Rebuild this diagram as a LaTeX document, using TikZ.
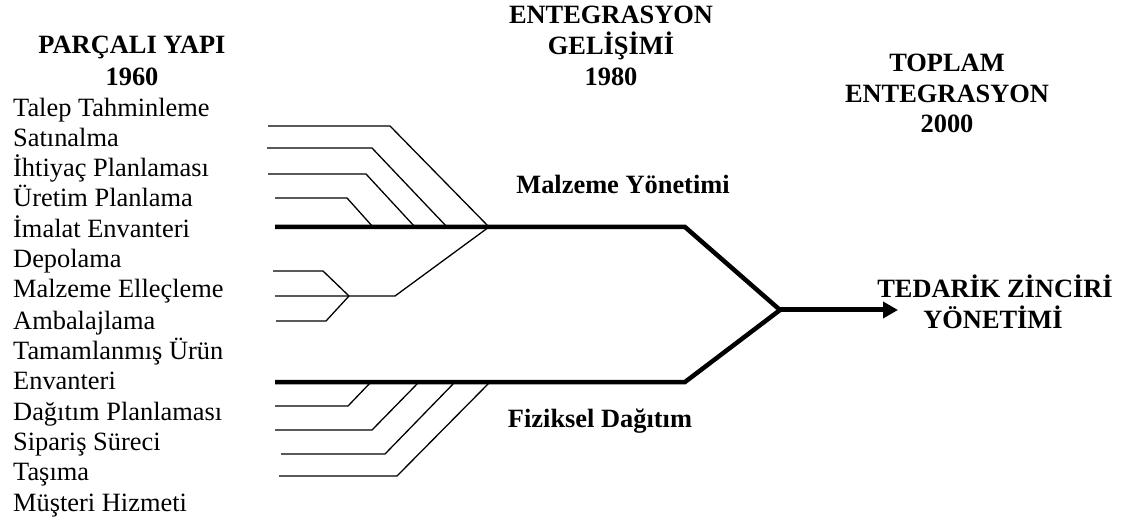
\documentclass[tikz,border=0pt]{standalone}
\usepackage{fontspec}
\setmainfont{Liberation Serif}
\usetikzlibrary{arrows.meta}
\begin{document}
\begin{tikzpicture}[
	x=1pt,y=-1pt,line join=miter,>={Triangle[length=15pt,width=16pt]},
	yazi/.style={inner sep=0pt,font=\fontsize{26.4}{31}\selectfont,text height=18pt,text depth=0pt},
	baslik/.style={yazi,font=\fontsize{26.4}{31}\selectfont\bfseries},
	kalem/.style={yazi,anchor=west},
	ince/.style={line width=1.3pt},
	kalin/.style={line width=4.5pt}]
	\useasboundingbox (0,0) rectangle (1134,526);
	% basliklar
	\node at (132,45) (parcali) [baslik] {PARÇALI YAPI};
	\node at (132,77) (yil1960) [baslik] {1960};
	\node at (611,15) (entegrasyon) [baslik] {ENTEGRASYON};
	\node at (611,46) (gelisim) [baslik] {GELİŞİMİ};
	\node at (611,77) (yil1980) [baslik] {1980};
	\node at (947,63) (toplam) [baslik] {TOPLAM};
	\node at (947,94) (entegrasyonT) [baslik] {ENTEGRASYON};
	\node at (947,124) (yil2000) [baslik] {2000};
	% faaliyetler
	\node at (13,108) (talep) [kalem] {Talep Tahminleme};
	\node at (13,138) (satin) [kalem] {Satınalma};
	\node at (13,168) (ihtiyac) [kalem] {İhtiyaç Planlaması};
	\node at (13,198) (uretim) [kalem] {Üretim Planlama};
	\node at (13,229) (imalat) [kalem] {İmalat Envanteri};
	\node at (13,259) (depolama) [kalem] {Depolama};
	\node at (13,289) (elleclem) [kalem] {Malzeme Elleçleme};
	\node at (13,320) (ambalaj) [kalem] {Ambalajlama};
	\node at (13,350) (tamam) [kalem] {Tamamlanmış Ürün};
	\node at (13,380) (envanter) [kalem] {Envanteri};
	\node at (13,411) (dagitim) [kalem] {Dağıtım Planlaması};
	\node at (13,441) (siparis) [kalem] {Sipariş Süreci};
	\node at (13,471) (tasima) [kalem] {Taşıma};
	\node at (13,502) (musteri) [kalem] {Müşteri Hizmeti};
	% ara basliklar
	\node at (623,185) (malzeme) [baslik] {Malzeme Yönetimi};
	\node at (600,418) (fiziksel) [baslik] {Fiziksel Dağıtım};
	\node at (995,289) (tedarik) [baslik] {TEDARİK ZİNCİRİ};
	\node at (993,319) (yonetim) [baslik] {YÖNETİMİ};
	% ana hatlar
	\coordinate (mBas) at (275,227);
	\coordinate (mKose) at (685,227);
	\coordinate (birlesim) at (780,310);
	\coordinate (fKose) at (685,382);
	\coordinate (fBas) at (275,382);
	\coordinate (uc) at (898,310);
	\draw[kalin] (mBas) -- (mKose) -- (birlesim) -- (fKose) -- (fBas);
	\draw[->,line width=5pt] (birlesim) -- (uc);
	% malzeme kollari
	\coordinate (k1) at (489,227);
	\coordinate (k2) at (447,227);
	\coordinate (k3) at (415,227);
	\coordinate (k4) at (373,227);
	\coordinate (a1) at (268,126);
	\coordinate (a2) at (267,148);
	\coordinate (a3) at (268,174);
	\coordinate (a4) at (275,198);
	\draw[ince] (a1) -- ++(122,0) -- (k1);
	\draw[ince] (a2) -- ++(105,0) -- (k2);
	\draw[ince] (a3) -- ++(98,0) -- (k3);
	\draw[ince] (a4) -- ++(72,0) -- (k4);
	% depolama kollari
	\coordinate (cat) at (349,296);
	\coordinate (c1) at (273,271);
	\coordinate (c2) at (275,296);
	\coordinate (c3) at (276,321);
	\draw[ince] (c1) -- ++(50,0) -- (cat);
	\draw[ince] (c3) -- ++(50,0) -- (cat);
	\draw[ince] (c2) -- (cat) -- ++(46,0) -- (k1);
	% dagitim kollari
	\coordinate (d1) at (275,406);
	\coordinate (d2) at (275,430);
	\coordinate (d3) at (281,454);
	\coordinate (d4) at (279,476);
	\coordinate (e1) at (371,382);
	\coordinate (e2) at (419,382);
	\coordinate (e3) at (455,382);
	\coordinate (e4) at (490,382);
	\draw[ince] (d1) -- ++(73,0) -- (e1);
	\draw[ince] (d2) -- ++(97,0) -- (e2);
	\draw[ince] (d3) -- ++(104,0) -- (e3);
	\draw[ince] (d4) -- ++(118,0) -- (e4);
\end{tikzpicture}
\end{document}
